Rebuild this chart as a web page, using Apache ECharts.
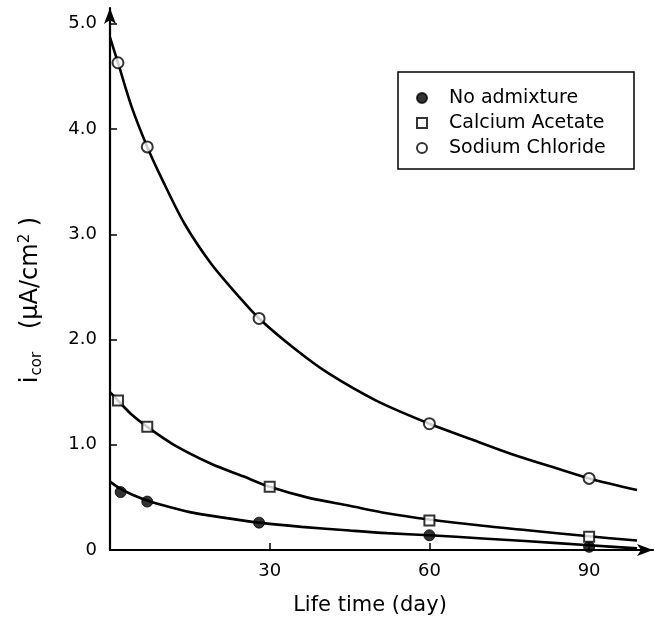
<!DOCTYPE html>
<html>
<head>
<meta charset="utf-8">
<script src="https://cdn.jsdelivr.net/npm/echarts@6/dist/echarts.min.js"></script>
<style>
html,body{margin:0;padding:0;background:#fff;}
#chart{width:655px;height:628px;}
</style>
</head>
<body>
<div id="chart"></div>
<script>
// Measured points
const seriesNames = ['No admixture', 'Calcium Acetate', 'Sodium Chloride'];
const noAdmixDays = [2, 7, 28, 60, 90];
const noAdmixVals = [0.55, 0.46, 0.26, 0.14, 0.03];
const calciumDays = [1.5, 7, 30, 60, 90];
const calciumVals = [1.42, 1.17, 0.60, 0.28, 0.125];
const sodiumDays = [1.5, 7, 28, 60, 90];
const sodiumVals = [4.63, 3.83, 2.2, 1.2, 0.68];

// Fitted curves
const noAdmixCurveDays = [0, 2, 4, 7, 11, 15, 21, 28, 36, 45, 52, 60, 70, 78, 90, 99];
const noAdmixCurveVals = [0.65, 0.58, 0.53, 0.47, 0.41, 0.36, 0.31, 0.26, 0.22, 0.185, 0.16, 0.14, 0.11, 0.085, 0.045, 0.015];
const calciumCurveDays = [0, 1.5, 4, 7, 12, 19, 25, 30, 37, 45, 52, 60, 70, 78, 90, 99];
const calciumCurveVals = [1.5, 1.42, 1.29, 1.17, 1.0, 0.82, 0.70, 0.60, 0.50, 0.42, 0.35, 0.29, 0.23, 0.19, 0.13, 0.09];
const sodiumCurveDays = [0, 1.5, 4, 7, 10, 14, 19, 24, 28, 35, 41, 50, 60, 68, 75, 83, 90, 99];
const sodiumCurveVals = [4.87, 4.63, 4.22, 3.83, 3.50, 3.10, 2.72, 2.42, 2.2, 1.90, 1.68, 1.42, 1.2, 1.05, 0.92, 0.79, 0.68, 0.57];

// Tick labels
const xTicks = [30, 60, 90];
const yTicks = [0, 1, 2, 3, 4, 5];

const zip = (a, b) => a.map((v, i) => [v, b[i]]);
const FONT = '"DejaVu Sans", sans-serif';

const chart = echarts.init(document.getElementById('chart'), null, {renderer: 'canvas'});

const curveStyle = {color: '#000', width: 2.6};
function curve(name, d, v) {
  return {
    name: name, type: 'line', data: zip(d, v), smooth: 0.3,
    showSymbol: false, symbol: 'none', lineStyle: curveStyle, silent: true, z: 2
  };
}

chart.setOption({
  animation: false,
  backgroundColor: '#fff',
  grid: {left: 110, top: 8, right: 2, bottom: 78, containLabel: false},
  xAxis: {
    type: 'value', min: 0, max: 102, interval: 30,
    splitLine: {show: false},
    axisLine: {show: true, lineStyle: {color: '#000', width: 2.2}, symbol: ['none', 'arrow'], symbolSize: [9, 16]},
    axisTick: {show: true, inside: true, length: 7, lineStyle: {color: '#000', width: 1.5}, customValues: xTicks},
    axisLabel: {color: '#000', fontSize: 18, fontFamily: FONT, margin: 12, customValues: xTicks}
  },
  yAxis: {
    type: 'value', min: 0, max: 5.15, interval: 1,
    splitLine: {show: false},
    axisLine: {show: true, lineStyle: {color: '#000', width: 2.2}, symbol: ['none', 'arrow'], symbolSize: [9, 16]},
    axisTick: {show: true, inside: true, length: 7, lineStyle: {color: '#000', width: 1.5}, customValues: yTicks.slice(1)},
    axisLabel: {color: '#000', fontSize: 18, fontFamily: FONT, margin: 13, customValues: yTicks,
      formatter: v => v === 0 ? '0' : v.toFixed(1)}
  },
  legend: {
    data: seriesNames,
    orient: 'vertical', left: 411, top: 82,
    itemWidth: 10, itemHeight: 10, itemGap: 3,
    textStyle: {color: '#000', fontSize: 19, fontFamily: FONT, lineHeight: 22, padding: [0, 0, 0, 17]},
    selectedMode: false
  },
  graphic: [
    {type: 'rect', shape: {x: 398, y: 72, width: 236, height: 97},
     style: {fill: null, stroke: '#000', lineWidth: 1.5}, silent: true},
    {type: 'text', x: 370, y: 606,
     style: {text: 'Life time (day)', font: '21px "DejaVu Sans", sans-serif', fill: '#000', align: 'center', verticalAlign: 'middle'}},
    {type: 'text', x: 31, y: 300, rotation: Math.PI / 2,
     style: {
       text: '{i|i}{s|cor}{n|   (μA/cm}{sup|2}{n| )}',
       align: 'center', verticalAlign: 'middle', fill: '#000',
       rich: {
         i: {fontSize: 24, fontFamily: FONT, fill: '#000'},
         s: {fontSize: 15, fontFamily: FONT, fill: '#000', padding: [12, 0, 0, 1]},
         n: {fontSize: 24, fontFamily: FONT, fill: '#000'},
         sup: {fontSize: 15, fontFamily: FONT, fill: '#000', padding: [0, 0, 11, 0]}
       }
     }}
  ],
  series: [
    curve('c1', noAdmixCurveDays, noAdmixCurveVals),
    curve('c2', calciumCurveDays, calciumCurveVals),
    curve('c3', sodiumCurveDays, sodiumCurveVals),
    {name: seriesNames[0], type: 'scatter', data: zip(noAdmixDays, noAdmixVals), symbol: 'circle', symbolSize: 11,
     itemStyle: {color: '#000', borderColor: '#000', borderWidth: 1}, z: 5},
    {name: seriesNames[1], type: 'scatter', data: zip(calciumDays, calciumVals), symbol: 'rect', symbolSize: 10,
     itemStyle: {color: '#fff', borderColor: '#000', borderWidth: 2}, z: 5},
    {name: seriesNames[2], type: 'scatter', data: zip(sodiumDays, sodiumVals), symbol: 'circle', symbolSize: 11,
     itemStyle: {color: '#fff', borderColor: '#000', borderWidth: 2}, z: 5}
  ]
});
</script>
</body>
</html>
